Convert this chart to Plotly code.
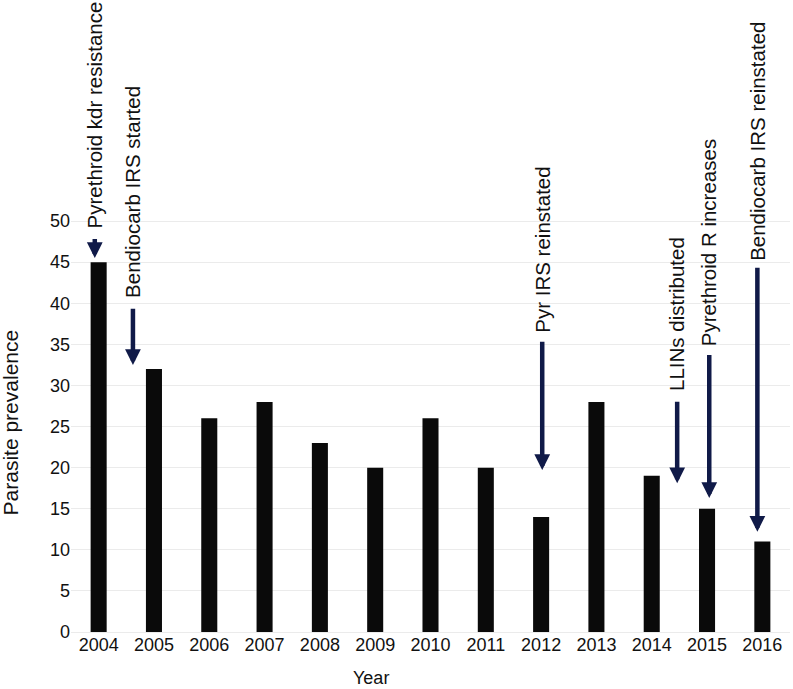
import plotly.graph_objects as go

years = [2004, 2005, 2006, 2007, 2008, 2009, 2010, 2011, 2012, 2013, 2014, 2015, 2016]
prevalence = [45, 32, 26, 28, 23, 20, 26, 20, 14, 28, 19, 15, 11]
y_ticks = [0, 5, 10, 15, 20, 25, 30, 35, 40, 45, 50]

event_labels = ["Pyrethroid kdr resistance", "Bendiocarb IRS started", "Pyr IRS reinstated",
                "LLINs distributed", "Pyrethroid R increases", "Bendiocarb IRS reinstated"]
event_x = [2003.93, 2004.62, 2012.02, 2014.46, 2015.04, 2015.91]
event_tail = [48.0, 39.5, 35.5, 28.2, 33.9, 44.5]
event_head = [45.5, 32.5, 19.7, 18.1, 16.3, 12.2]
event_text_bottom = [48.9, 40.4, 36.2, 29.1, 34.5, 44.9]

FONT = "Liberation Sans, Arial, sans-serif"
ARROW = "#101a48"

fig = go.Figure(go.Bar(x=years, y=prevalence, width=0.29,
                       marker=dict(color="#0a0a0a", line=dict(width=0))))

anns = []
for lab, x, t, h, tb in zip(event_labels, event_x, event_tail, event_head, event_text_bottom):
    anns.append(dict(x=x, y=tb, xref="x", yref="y", text=lab, showarrow=False,
                     textangle=-90, xanchor="center", yanchor="bottom",
                     font=dict(family=FONT, size=20.5, color="#111")))
    anns.append(dict(x=x, y=h, ax=x, ay=t, xref="x", yref="y", axref="x", ayref="y",
                     text="", showarrow=True, arrowhead=2, arrowsize=0.7, arrowwidth=4.5,
                     arrowcolor=ARROW, standoff=0, startstandoff=0))

anns.append(dict(x=0, y=25.5, xref="paper", yref="y", xshift=-61, text="Parasite prevalence",
                 showarrow=False, textangle=-90, xanchor="center", yanchor="middle",
                 font=dict(family=FONT, size=21, color="#111")))
anns.append(dict(x=2008.92, y=0, xref="x", yref="paper", yshift=-46, text="Year",
                 showarrow=False, xanchor="center", yanchor="middle",
                 font=dict(family=FONT, size=18, color="#111")))

fig.update_layout(
    width=793, height=689,
    margin=dict(l=71, r=3, t=0, b=57),
    paper_bgcolor="white", plot_bgcolor="white",
    showlegend=False,
    font=dict(family=FONT, size=18, color="#111"),
    annotations=anns,
    xaxis=dict(range=[2003.5, 2016.5], tickvals=years, ticktext=[str(y) for y in years],
               showgrid=False, zeroline=False, showline=False, ticks="",
               tickfont=dict(family=FONT, size=18, color="#111")),
    yaxis=dict(range=[0, 76.9], tickvals=y_ticks, showgrid=True, gridcolor="#ebebeb",
               gridwidth=1, zeroline=True, zerolinecolor="#ebebeb", zerolinewidth=1,
               showline=False, ticks="", tickfont=dict(family=FONT, size=18, color="#111")),
)

fig.write_html("out.html", config={"displayModeBar": False},
               post_script="document.body.style.margin='0';document.body.style.overflow='hidden';")
